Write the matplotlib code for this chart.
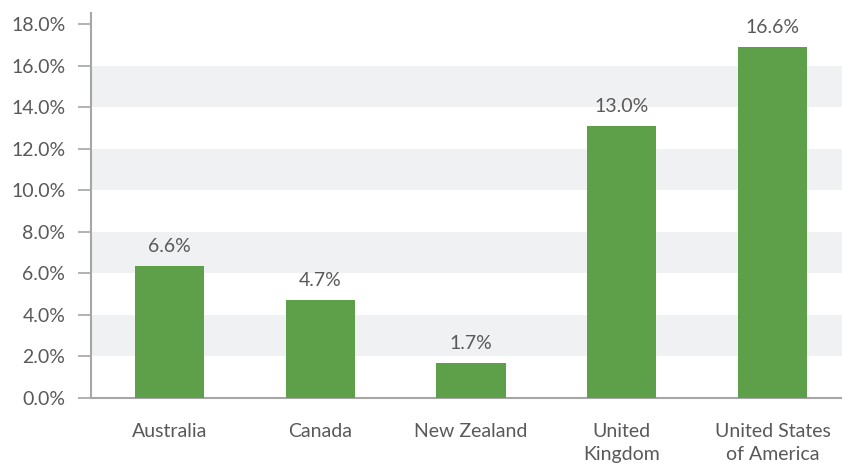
import matplotlib.pyplot as plt
from matplotlib.ticker import FuncFormatter

# data
countries = ["Australia", "Canada", "New Zealand", "United\nKingdom", "United States\nof America"]
bar_heights = [6.36, 4.72, 1.69, 13.1, 16.9]
value_labels = ["6.6%", "4.7%", "1.7%", "13.0%", "16.6%"]
yticks = [0, 2, 4, 6, 8, 10, 12, 14, 16, 18]

green = "#5e9f4a"
text_col = "#595959"
axis_col = "#a6a6a6"
band_col = "#f0f1f3"

plt.rcParams["font.family"] = ["Lato", "DejaVu Sans"]

fig = plt.figure(figsize=(8.42, 4.66), dpi=100)
ax = fig.add_axes([91 / 842, 68 / 466, 754 / 842, 385 / 466])

x = list(range(len(countries)))
ax.bar(x, bar_heights, width=0.46, color=green, zorder=3)

# alternating grey bands
for lo in yticks[1:-1:2]:
    ax.axhspan(lo, lo + 2, color=band_col, lw=0, zorder=0)

for xi, h, lab in zip(x, bar_heights, value_labels):
    ax.annotate(lab, (xi, h), xytext=(0, 8), textcoords="offset points",
                ha="center", va="bottom", fontsize=14, color=text_col)

ax.set_xlim(-0.52, 4.48)
ax.set_ylim(0, 18.55)
ax.set_yticks(yticks)
ax.yaxis.set_major_formatter(FuncFormatter(lambda v, p: f"{v:.1f}%"))
ax.set_xticks(x)
ax.set_xticklabels(countries, linespacing=1.45)

for s in ["top", "right"]:
    ax.spines[s].set_visible(False)
for s in ["left", "bottom"]:
    ax.spines[s].set_color(axis_col)
    ax.spines[s].set_linewidth(1.5)

ax.tick_params(axis="y", length=9.5, width=1.2, color=axis_col, pad=9,
               labelsize=14, labelcolor=text_col)
ax.tick_params(axis="x", length=0, pad=18, labelsize=14, labelcolor=text_col)

fig.savefig("out.png", dpi=100)
